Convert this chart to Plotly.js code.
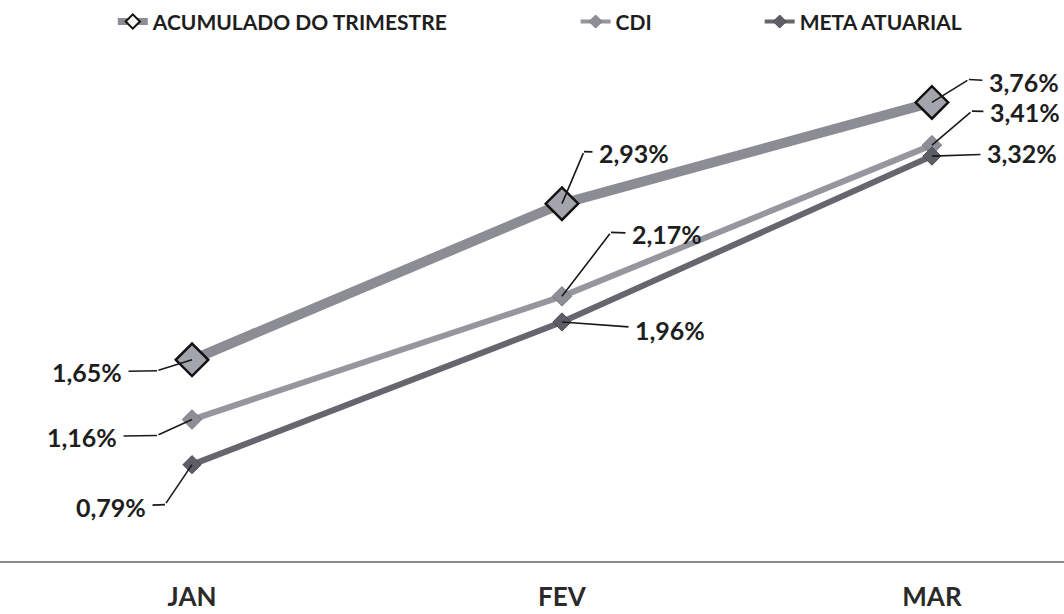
<!DOCTYPE html>
<html>
<head>
<meta charset="utf-8">
<script src="https://cdn.plot.ly/plotly-3.0.1.min.js"></script>
<style>html,body{margin:0;padding:0;background:#fff;}#chart{width:1064px;height:614px;}</style>
</head>
<body>
<div id="chart"></div>
<script>
// ---- data ----
const months = ["JAN", "FEV", "MAR"];
const acumulado = [1.65, 2.93, 3.76];
const cdi = [1.16, 2.17, 3.41];
const meta = [0.79, 1.96, 3.32];
const seriesNames = ["ACUMULADO DO TRIMESTRE", "CDI", "META ATUARIAL"];

const fmt = v => v.toFixed(2).replace(".", ",") + "%";

const FONT = "Lato, 'Open Sans', sans-serif";

const styles = [
  {line: {color: "#8c8c95", width: 10},
   marker: {symbol: "diamond", size: 25, color: "#a4a4ad", line: {color: "#111", width: 2.5}},
   legMarker: {symbol: "diamond", size: 11, color: "#f4f4f6", line: {color: "#111", width: 2}},
   legLine: {color: "#8c8c95", width: 7}},
  {line: {color: "#96969e", width: 6},
   marker: {symbol: "diamond", size: 15, color: "#8e8e97", line: {color: "#7a7a82", width: 1}},
   legMarker: {symbol: "diamond", size: 10, color: "#8e8e97", line: {color: "#7a7a82", width: 1}},
   legLine: {color: "#96969e", width: 4}},
  {line: {color: "#66666e", width: 6},
   marker: {symbol: "diamond", size: 14, color: "#5e5e67", line: {color: "#4a4a52", width: 1}},
   legMarker: {symbol: "diamond", size: 10, color: "#5e5e67", line: {color: "#4a4a52", width: 1}},
   legLine: {color: "#66666e", width: 4}}
];
const seriesVals = [acumulado, cdi, meta];
const legendIds = ["legend", "legend2", "legend3"];

const traces = [];
seriesVals.forEach((vals, k) => {
  traces.push({
    x: months, y: vals, name: seriesNames[k], type: "scatter", mode: "lines+markers",
    line: styles[k].line, marker: styles[k].marker, showlegend: false, hoverinfo: "none"
  });
});
// legend-only entries (no data drawn) so the legend samples match the original key
seriesVals.forEach((vals, k) => {
  traces.push({
    x: [null], y: [null], name: seriesNames[k], type: "scatter", mode: "lines+markers",
    line: styles[k].legLine, marker: styles[k].legMarker, legend: legendIds[k],
    showlegend: true, hoverinfo: "none"
  });
});

// label leader geometry (pixels): [elbowX, elbowY, textDX, textDY]
// elbow relative to point, text relative to elbow; elbow null => straight leader
const geoAcum = [[-35, 11, -70, 1], [22, -52, 50, 1], [37, -23, 55, 3]];
const geoCdi  = [[-35, 16, -75, 1], [49, -64, 56, 2], [40, -34, 53, 1]];
const geoMeta = [[-27, 40, -54, 2], [null, null, 108, 8], [null, null, 90, -3]];

const annotations = [];
const lineStyle = {arrowhead: 0, arrowwidth: 1.6, arrowcolor: "#1a1a1a"};
const labelFont = {family: FONT, size: 25, color: "#1e1e1e", weight: 700};

function addLabels(vals, geo) {
  vals.forEach((v, i) => {
    const [ex, ey, tx, ty] = geo[i];
    if (ex === null) {
      annotations.push(Object.assign({
        x: months[i], y: v, xref: "x", yref: "y", text: fmt(v),
        showarrow: true, ax: tx, ay: ty, standoff: 0, startstandoff: 5, font: labelFont
      }, lineStyle));
    } else {
      annotations.push(Object.assign({
        x: months[i], y: v, xref: "x", yref: "y", text: "",
        showarrow: true, ax: ex, ay: ey, standoff: 0
      }, lineStyle));
      annotations.push(Object.assign({
        x: months[i], y: v, xref: "x", yref: "y", text: fmt(v),
        xshift: ex, yshift: -ey,
        showarrow: true, ax: tx, ay: ty, standoff: 0, startstandoff: 5, font: labelFont
      }, lineStyle));
    }
  });
}
addLabels(acumulado, geoAcum);
addLabels(cdi, geoCdi);
addLabels(meta, geoMeta);

const legendBase = {
  orientation: "h", yanchor: "middle", y: 1.055, xanchor: "left",
  bgcolor: "rgba(0,0,0,0)", borderwidth: 0,
  font: {family: FONT, size: 21, color: "#1e1e1e", weight: 700},
  itemclick: false, itemdoubleclick: false
};

const layout = {
  width: 1064, height: 614,
  margin: {l: 0, r: 0, t: 50, b: 53},
  paper_bgcolor: "#ffffff", plot_bgcolor: "#ffffff",
  showlegend: true,
  legend: Object.assign({}, legendBase, {x: 0.106}),
  legend2: Object.assign({}, legendBase, {x: 0.541}),
  legend3: Object.assign({}, legendBase, {x: 0.714}),
  xaxis: {
    type: "category", range: [-0.519, 2.357],
    showgrid: false, zeroline: false,
    showline: true, linecolor: "#8a8a8a", linewidth: 2,
    ticks: "outside", ticklen: 12, tickcolor: "rgba(0,0,0,0)",
    tickfont: {family: FONT, size: 26, color: "#2a2a2a", weight: 700},
    fixedrange: true
  },
  yaxis: {
    range: [0, 4.19], showgrid: false, zeroline: false, showline: false,
    showticklabels: false, ticks: "", fixedrange: true
  },
  annotations: annotations
};

Plotly.newPlot("chart", traces, layout, {displayModeBar: false, staticPlot: true});
</script>
</body>
</html>
